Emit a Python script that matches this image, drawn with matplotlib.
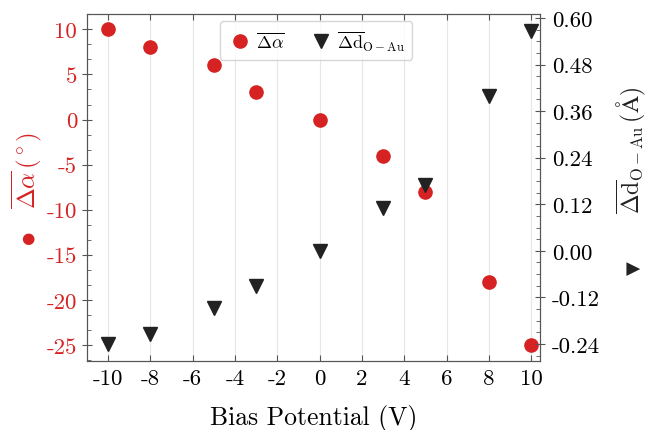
import numpy as np
import matplotlib
matplotlib.use("Agg")
import matplotlib.pyplot as plt
from matplotlib.ticker import MultipleLocator, AutoMinorLocator, FormatStrFormatter

# data
bias = [-10, -8, -5, -3, 0, 3, 5, 8, 10]
d_alpha = [10, 8, 6, 3, 0, -4, -8, -18, -25]
d_oau = [-0.24, -0.214, -0.147, -0.09, 0.0, 0.111, 0.17, 0.40, 0.567]
xticks = [-10, -8, -6, -4, -2, 0, 2, 4, 6, 8, 10]

red = "#d62222"
dark = "#222222"

plt.rcParams["font.family"] = "cmr10"
plt.rcParams["mathtext.fontset"] = "cm"
plt.rcParams["axes.unicode_minus"] = False
plt.rcParams["axes.formatter.use_mathtext"] = True

fig, ax = plt.subplots(figsize=(6.48, 4.31), dpi=100)
fig.subplots_adjust(left=0.134, right=0.834, top=0.965, bottom=0.16)
ax2 = ax.twinx()

ax.grid(axis="x", color="#e6e6e6", lw=0.8, zorder=0)
ax.set_axisbelow(True)

l1, = ax.plot(bias, d_alpha, "o", color=red, ms=9.5, ls="none", zorder=3,
              label=r"$\overline{\Delta\alpha}$")
l2, = ax2.plot(bias, d_oau, "v", color=dark, ms=9.5, ls="none", zorder=3,
               label=r"$\overline{\Delta \mathrm{d}}_{\mathrm{O-Au}}$")

ax.set_xlim(-11, 10.43)
ax.set_ylim(-26.8, 11.7)
ax2.set_ylim(-0.284, 0.61)

ax.set_xticks(xticks)
ax.yaxis.set_major_locator(MultipleLocator(5))
ax.yaxis.set_minor_locator(AutoMinorLocator(3))
ax2.yaxis.set_major_locator(MultipleLocator(0.12))
ax2.yaxis.set_minor_locator(AutoMinorLocator(4))
ax2.yaxis.set_major_formatter(FormatStrFormatter("%.2f"))
ax.xaxis.set_major_formatter(FormatStrFormatter("%d"))
ax.yaxis.set_major_formatter(FormatStrFormatter("%d"))

for a in (ax, ax2):
    for s in a.spines.values():
        s.set_color("#555555")
ax.tick_params(axis="x", direction="in", top=True, length=4, pad=5,
               color="#555555", labelsize=16.5)
ax.tick_params(axis="y", which="major", direction="inout", length=7,
               color="#555555", labelsize=16.5, labelcolor=red)
ax.tick_params(axis="y", which="minor", direction="in", length=3, color="#555555")
ax2.tick_params(axis="y", which="major", direction="inout", length=7, color="#555555",
                labelsize=16.5, pad=5)
ax2.tick_params(axis="y", which="minor", direction="in", length=3, color="#555555")

ax.set_xlabel("Bias Potential (V)", fontsize=18.5, labelpad=12)
ax.set_ylabel(r"$\overline{\Delta\alpha}\,(^\circ)$", color=red, fontsize=18, labelpad=4)
ax.yaxis.set_label_coords(-0.095, 0.553)
ax2.set_ylabel(r"$\overline{\Delta \mathrm{d}}_{\mathrm{O-Au}}\,(\mathrm{\AA})$",
               color=dark, fontsize=17, labelpad=8)
ax2.yaxis.set_label_coords(1.163, 0.611)

# marker symbols that sit below the rotated axis labels
fig.text(28 / 648, 1 - 239 / 431, "●", family="DejaVu Sans", color=red,
         fontsize=11, ha="center", va="center")
fig.text(634 / 648, 1 - 268 / 431, "▼", family="DejaVu Sans", color=dark,
         fontsize=13, ha="center", va="center", rotation=90)

ax.legend(handles=[l1, l2], loc="upper center", bbox_to_anchor=(0.505, 0.98), ncol=2,
          fontsize=13, frameon=True, framealpha=0.8, edgecolor="#cccccc",
          handletextpad=0.1, columnspacing=1.3, borderpad=0.4, handlelength=1.5,
          borderaxespad=0)

fig.savefig("out.png", dpi=100)
